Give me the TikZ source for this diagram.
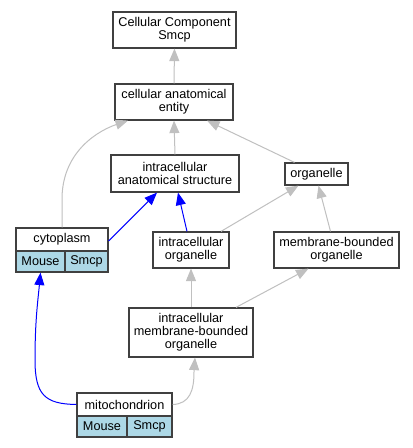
\documentclass[tikz,border=0pt]{standalone}
\usepackage{fontspec}
\setmainfont{Liberation Sans}
\usetikzlibrary{arrows.meta}
\definecolor{bordc}{HTML}{404040}
\definecolor{edgeg}{HTML}{C0C0C0}
\definecolor{cellb}{HTML}{ADD8E6}
\begin{document}
\begin{tikzpicture}[x=1pt,y=-1pt,
  box/.style={draw=bordc,line width=1.2pt,fill=white,inner sep=0pt,align=center,
    font=\fontsize{12.7}{13}\selectfont},
  cell/.style={box,fill=cellb},
  gedge/.style={draw=edgeg,line width=1pt,-{Triangle[length=12.5pt,width=10pt]},color=edgeg},
  bedge/.style={draw=blue,line width=1pt,-{Triangle[length=12.5pt,width=10pt]},color=blue}]
\useasboundingbox (0,0) rectangle (413,448);
\fill[white] (0,0) rectangle (413,448);
\node[box,minimum width=123pt,minimum height=36pt] (ccs) at (174.5,30) {Cellular Component\\Smcp};
\node[box,minimum width=118pt,minimum height=36pt] (cae) at (174,102) {cellular anatomical\\entity};
\node[box,minimum width=128pt,minimum height=37pt] (ias) at (175,173.5) {intracellular\\anatomical structure};
\node[box,minimum width=63pt,minimum height=22pt] (org) at (316.5,174) {organelle};
\node[box,minimum width=92pt,minimum height=23pt] (cyto) at (62,239.5) {cytoplasm};
\node[cell,minimum width=49pt,minimum height=21pt] (cytoM) at (40.5,261.5) {Mouse};
\node[cell,minimum width=43pt,minimum height=21pt] (cytoS) at (86.5,261.5) {Smcp};
\node[box,minimum width=76pt,minimum height=36pt] (io) at (191,250) {intracellular\\organelle};
\node[box,minimum width=125pt,minimum height=36pt] (mbo) at (336.5,250) {membrane-bounded\\organelle};
\node[box,minimum width=124pt,minimum height=49pt] (imbo) at (191,332.5) {intracellular\\membrane-bounded\\organelle};
\node[box,minimum width=95pt,minimum height=23pt] (mito) at (124.5,404.5) {mitochondrion};
\node[cell,minimum width=50pt,minimum height=21pt] (mitoM) at (102,426.5) {Mouse};
\node[cell,minimum width=45pt,minimum height=21pt] (mitoS) at (149.5,426.5) {Smcp};
% edges
\draw[gedge] (cae.north) -- (ccs.south);
\draw[gedge] (ias.north) -- (cae.south);
\draw[gedge] ([xshift=-22pt]org.north) -- ([xshift=33pt]cae.south);
\draw[gedge] (cyto.north) -- ++(0,-30) .. controls (63,150) and (100,130) .. ([xshift=-46pt]cae.south);
\draw[bedge] ([yshift=-1.5pt]cyto.east) -- ([xshift=-18pt]ias.south);
\draw[bedge] ([xshift=-4pt]io.north) -- ([xshift=3pt]ias.south);
\draw[gedge] ([xshift=30pt]io.north) -- ([xshift=-18pt]org.south);
\draw[gedge] ([xshift=-6pt]mbo.north) -- ([xshift=2pt]org.south);
\draw[gedge] (imbo.north) -- (io.south);
\draw[gedge] ([xshift=45pt]imbo.north) -- ([xshift=-28pt]mbo.south);
\draw[gedge] (mito.east) .. controls (190,404) and (194,390) .. (194,372) -- ([xshift=4pt]imbo.south);
\draw[bedge] (mito.west) .. controls (45,404) and (35,395) .. (35,360) .. controls (35,320) and (38,300) .. (cytoM.south);
\end{tikzpicture}
\end{document}
